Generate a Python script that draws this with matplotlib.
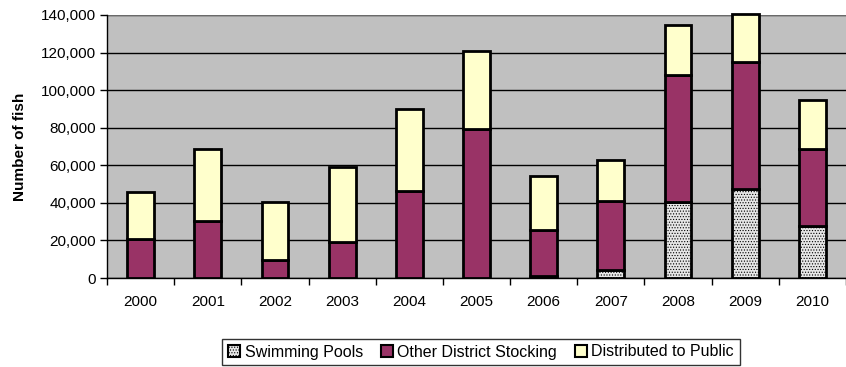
import matplotlib
matplotlib.use("Agg")
import matplotlib.pyplot as plt
import numpy as np
from matplotlib.patches import Patch

years = ["2000", "2001", "2002", "2003", "2004", "2005", "2006", "2007", "2008", "2009", "2010"]
swimming_pools = [0, 0, 0, 0, 0, 0, 1000, 4500, 40300, 47500, 27600]
other_stocking = [21000, 30300, 9800, 18900, 46500, 79500, 24500, 36600, 67600, 67400, 41000]
distributed = [24600, 38300, 30400, 40100, 43500, 41500, 28700, 21800, 26900, 25400, 26200]

plt.rcParams['font.family'] = ['Liberation Sans', 'DejaVu Sans']
plt.rcParams['hatch.color'] = '#c4c4c4'
plt.rcParams['hatch.linewidth'] = 0.5

FS = 11

fig = plt.figure(figsize=(8.46, 3.67), dpi=100)
ax = fig.add_axes([107/846, 1-278/367, (846-107)/846, (278-15)/367])
ax.set_facecolor('#C0C0C0')

x = np.arange(len(years))
w = 0.4
sp = np.array(swimming_pools)
os_ = np.array(other_stocking)
dp = np.array(distributed)

ax.bar(x, sp, w, color='#E6E6E6', hatch='......', edgecolor='black', linewidth=2, zorder=3)
ax.bar(x, os_, w, bottom=sp, color='#993366', edgecolor='black', linewidth=2, zorder=3)
ax.bar(x, dp, w, bottom=sp + os_, color='#FFFFCC', edgecolor='black', linewidth=2, zorder=3, clip_on=False)

ax.set_xlim(-0.5, len(years) - 0.5)
ax.set_ylim(0, 140000)
yt = np.arange(0, 140001, 20000)
ax.set_yticks(yt)
ax.set_yticklabels([f"{v:,}" for v in yt], fontsize=FS)
ax.yaxis.grid(True, color='black', linewidth=1, zorder=1)
ax.set_axisbelow(True)

ax.set_xticks(x)
ax.set_xticklabels(years, fontsize=FS)
ax.tick_params(axis='x', length=0, pad=12)
ax.set_xticks(np.arange(-0.5, len(years), 1), minor=True)
ax.tick_params(axis='x', which='minor', length=5, width=1, color='black', direction='out')
ax.tick_params(axis='y', length=5, width=1, color='black', direction='out', pad=3)

for s in ['top', 'right']:
    ax.spines[s].set_visible(False)
for s in ['left', 'bottom']:
    ax.spines[s].set_color('black')
    ax.spines[s].set_linewidth(1)
ax.axhline(140000, color='#808080', linewidth=1.2, zorder=2)

ax.set_ylabel("Number of fish", fontsize=FS, fontweight='bold', labelpad=10)

handles = [
    Patch(facecolor='#E6E6E6', edgecolor='black', hatch='......', linewidth=1.5, label='Swimming Pools'),
    Patch(facecolor='#993366', edgecolor='black', linewidth=1.5, label='Other District Stocking'),
    Patch(facecolor='#FFFFCC', edgecolor='black', linewidth=1.5, label='Distributed to Public'),
]
leg = fig.legend(handles=handles, loc='center', bbox_to_anchor=(481/846, 1-352/367), ncol=3,
                 fontsize=FS + 0.5, frameon=True, fancybox=False, edgecolor='black',
                 handlelength=0.75, handleheight=0.75, handletextpad=0.3, columnspacing=1.1,
                 borderpad=0.35, borderaxespad=0)
leg.get_frame().set_linewidth(1)

fig.savefig("out.png", dpi=100)
